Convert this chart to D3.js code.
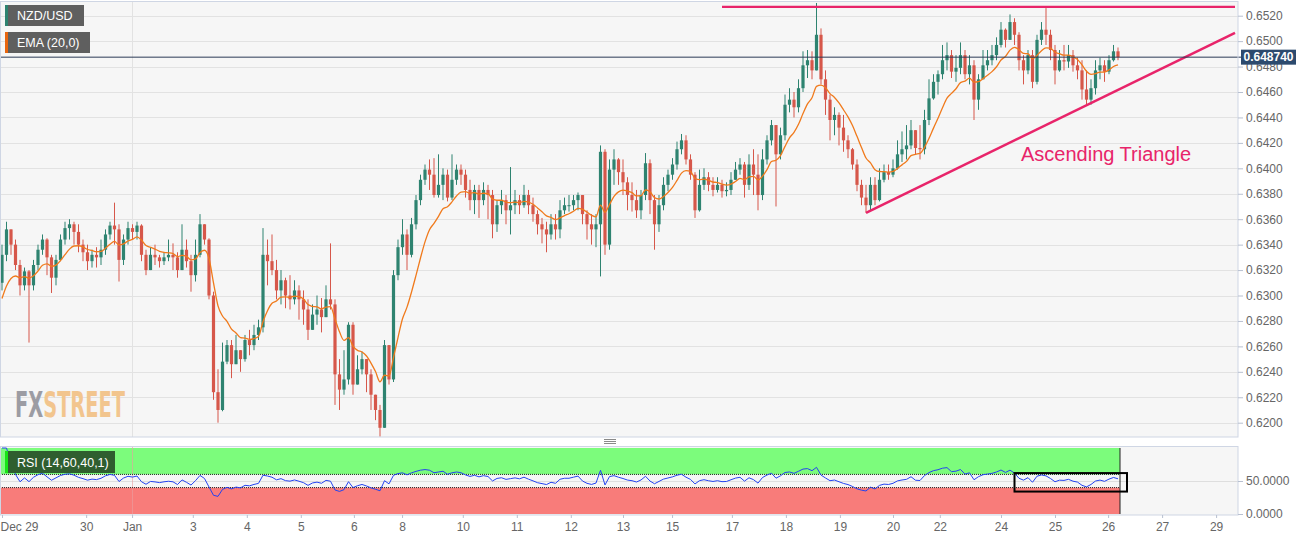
<!DOCTYPE html>
<html>
<head>
<meta charset="utf-8">
<script src="https://cdn.jsdelivr.net/npm/d3@7"></script>
<style>
  body { margin: 0; background: #fff; font-family: "Liberation Sans", Arial, sans-serif; }
</style>
</head>
<body>
<div id="chart"></div>
<script>
/* NZD/USD, 2h bars, prices in pips (6487 = 0.6487) */
var firstOpen = 6310;
var closePips = [
  6332,6352,6340,6324,6308,6319,6308,6324,6336,6344,6330,6314,6328,6344,6353,6356,6350,6340,6334,6327,6332,
  6330,6336,6348,6355,6352,6328,6344,6353,6350,6355,6332,6320,6332,6330,6327,6330,6332,6330,6320,6336,6327,6316,6332,6356,
  6344,6300,6224,6210,6248,6261,6246,6257,6250,6265,6261,6269,6275,6332,6327,6320,6304,6312,6300,
  6297,6304,6297,6289,6273,6285,6289,6283,6297,6293,6238,6226,6234,6277,6230,6242,6250,6238,6222,6210,6196,6261,6234,6316,
  6338,6348,6332,6356,6375,6391,6399,6395,6379,6387,6395,6377,6391,6399,6395,6383,6375,6383,6375,6383,6379,6356,6371,6375,6367,6371,6375,6371,6379,6371,6364,6356,6352,6348,6356,6352,6367,6371,
  6371,6375,6379,6364,6356,6352,6356,6413,6340,6399,6407,6397,6389,6379,6375,6367,6379,6404,6375,6356,6371,6387,6395,6403,6415,6422,6407,6395,6367,6387,6393,6387,6383,6387,6382,6383,6391,6399,6403,6387,6403,6395,6379,6407,6422,6434,6411,6426,6450,6454,6448,6463,6481,6485,6477,6505,6470,6454,6438,6442,6432,
  6422,6415,6403,6387,6377,6371,6387,6375,6391,6397,6395,6400,6411,6415,6418,6430,6416,6415,6438,6455,6468,6474,6485,6489,6476,6479,6489,6474,6481,6454,6470,6481,6485,6489,6497,6509,6501,6515,6505,6485,6477,6489,6468,6501,6509,6505,6493,6477,6485,6484,6489,6481,6477,6462,6454,6463,6477,6481,6476,6485,6492,6487.4
];
var highPips = [
  6340,6358,6352,6344,6328,6322,6320,6328,6340,6348,6345,6332,6332,6348,6358,6360,6358,6356,6344,6340,6336,
  6338,6344,6352,6358,6373,6356,6348,6358,6356,6358,6356,6336,6338,6340,6332,6334,6344,6341,6334,6356,6344,6332,6344,6364,
  6356,6345,6303,6242,6263,6265,6265,6269,6256,6269,6273,6277,6281,6353,6344,6348,6328,6320,6314,
  6316,6312,6308,6304,6297,6293,6300,6298,6308,6341,6297,6250,6257,6279,6279,6253,6256,6250,6242,6222,6214,6265,6261,6320,
  6344,6360,6352,6361,6379,6395,6403,6407,6408,6411,6400,6399,6411,6403,6403,6399,6391,6387,6387,6389,6387,6383,6375,6383,6379,6401,6383,6379,6387,6383,6377,6367,6361,6358,6364,6364,6375,6377,
  6379,6379,6381,6379,6367,6364,6364,6418,6415,6407,6415,6408,6407,6393,6389,6383,6383,6412,6407,6379,6379,6393,6399,6408,6421,6427,6426,6411,6397,6399,6400,6397,6393,6393,6391,6389,6397,6405,6408,6405,6411,6415,6411,6415,6426,6438,6434,6432,6458,6463,6460,6470,6492,6493,6492,6530,6510,6477,6458,6448,6444,
  6442,6426,6416,6407,6391,6387,6393,6393,6400,6403,6403,6407,6422,6429,6434,6438,6430,6434,6446,6470,6474,6477,6497,6499,6493,6489,6499,6493,6489,6485,6474,6493,6493,6497,6503,6515,6510,6521,6518,6507,6489,6493,6493,6505,6515,6526,6509,6497,6493,6497,6497,6493,6487,6485,6477,6470,6485,6487,6485,6489,6497,6495
];
var lowPips = [
  6304,6327,6332,6320,6300,6304,6263,6304,6320,6332,6316,6302,6308,6327,6340,6344,6340,6334,6327,6320,6322,
  6322,6324,6332,6344,6340,6311,6324,6340,6344,6344,6327,6316,6324,6324,6322,6324,6327,6320,6314,6330,6322,6303,6311,6330,
  6340,6297,6218,6200,6209,6246,6235,6248,6240,6248,6253,6257,6265,6271,6308,6316,6297,6293,6290,
  6289,6293,6281,6277,6265,6273,6277,6271,6283,6289,6214,6210,6222,6230,6222,6230,6238,6224,6210,6202,6189,6198,6230,6232,
  6312,6332,6320,6330,6352,6371,6387,6383,6377,6377,6375,6374,6375,6387,6387,6377,6367,6364,6361,6371,6360,6345,6350,6364,6356,6348,6364,6364,6369,6364,6358,6348,6341,6334,6344,6344,6345,6364,
  6366,6367,6367,6356,6344,6340,6338,6315,6332,6336,6387,6387,6379,6367,6366,6361,6360,6375,6364,6336,6350,6367,6382,6391,6399,6411,6403,6391,6361,6366,6383,6382,6378,6381,6377,6378,6379,6391,6395,6377,6383,6379,6367,6375,6403,6418,6370,6407,6422,6444,6440,6444,6460,6471,6470,6484,6466,6442,6422,6426,6418,
  6413,6408,6399,6382,6371,6365,6367,6371,6374,6389,6391,6393,6399,6405,6407,6415,6411,6407,6411,6434,6454,6458,6470,6477,6471,6468,6474,6470,6466,6438,6446,6470,6477,6481,6485,6495,6495,6501,6497,6477,6466,6474,6463,6466,6497,6497,6485,6466,6476,6477,6479,6476,6470,6454,6450,6450,6458,6470,6468,6474,6484,6485
];

// x axis: day labels and where they fall in bar units
var dayLabels = ["Dec 29","30","Jan","3","4","5","6","8","10","11","12","13","15","17","18","19","20","22","24","25","26","27","29"];
var dayIdx = [0,18.7,28.9,42.4,54.4,66.4,78.2,88.9,102.4,114.4,126.4,138,148.9,162.2,174.2,186.2,198,208.4,222,234,245.8,257.8,269.8];
var priceTicks = [0.6200,0.6220,0.6240,0.6260,0.6280,0.6300,0.6320,0.6340,0.6360,0.6380,0.6400,0.6420,0.6440,0.6460,0.6480,0.6500,0.6520];
var rsiTicks = [0, 50];

// drawn annotations (bar index, price)
var resistance = { from: 160, to: 274, price: 0.6527 };
var support = { from: 192, to: 274, p0: 0.6365, p1: 0.65065 };
var rsiBox = { from: 225, to: 250, hi: 62, lo: 34 };

var emaBars = 10;   // 20 hours on 2h bars
var rsiBars = 14;
var emaSeed = 0.6290;

/* build candles */
var candles = closePips.map(function (c, i) {
    var o = i === 0 ? firstOpen : closePips[i - 1];
    return {
        o: o / 10000, c: c / 10000,
        h: Math.max(highPips[i], o, c) / 10000,
        l: Math.min(lowPips[i], o, c) / 10000
    };
});
var last = candles[candles.length - 1].c;

// ema
var ema = [], k = 2 / (emaBars + 1), prev = emaSeed;
candles.forEach(function (d) { prev = d.c * k + prev * (1 - k); ema.push(prev); });

// rsi (wilder)
var rsi = [], ag = 0, al = 0;
candles.forEach(function (d, i) {
    var ch = d.c - d.o;
    var g = Math.max(ch, 0), l = Math.max(-ch, 0);
    var n = Math.min(i + 1, rsiBars);
    ag = (ag * (n - 1) + g) / n;
    al = (al * (n - 1) + l) / n;
    rsi.push(al === 0 ? 100 : 100 - 100 / (1 + ag / al));
});

/* layout */
var W = 1315, H = 541;
var plotRight = 1238;
var mainTop = 1, mainBottom = 437, rsiTop = 446, rsiBottom = 515;

var x = d3.scaleLinear().domain([0, 274]).range([2, 1235]);
var y = d3.scaleLinear().domain([0.62, 0.652]).range([422.7, 15.7]);
var yr = d3.scaleLinear().domain([0, 100]).range([514, 448]);

var svg = d3.select("#chart").append("svg").attr("width", W).attr("height", H)
    .style("font-family", "'Liberation Sans', Arial, sans-serif");

var defs = svg.append("defs");
defs.append("clipPath").attr("id", "clipMain").append("rect")
    .attr("x", 0).attr("y", mainTop).attr("width", plotRight).attr("height", mainBottom - mainTop);
defs.append("clipPath").attr("id", "clipRsi").append("rect")
    .attr("x", 0).attr("y", rsiTop).attr("width", plotRight).attr("height", rsiBottom - rsiTop);
// two-tone watermark fill: gray "FX", orange "STREET"
var wmGrad = defs.append("linearGradient").attr("id", "wmFill")
    .attr("gradientUnits", "userSpaceOnUse").attr("x1", 15).attr("x2", 125).attr("y1", 0).attr("y2", 0);
wmGrad.append("stop").attr("offset", 0.26).attr("stop-color", "#9c9ca3");
wmGrad.append("stop").attr("offset", 0.26).attr("stop-color", "#f2c58e");

/* main panel */
svg.append("rect").attr("x", 0).attr("y", mainTop).attr("width", plotRight).attr("height", mainBottom - mainTop)
    .attr("fill", "#f6f6f6");

svg.append("g").selectAll("line").data(priceTicks).enter().append("line")
    .attr("x1", 0).attr("x2", plotRight)
    .attr("y1", function (d) { return Math.round(y(d)) + 0.5; })
    .attr("y2", function (d) { return Math.round(y(d)) + 0.5; })
    .attr("stroke", "#e2e2e2");

svg.append("line").attr("x1", Math.round(x(dayIdx[2])) + 0.5).attr("x2", Math.round(x(dayIdx[2])) + 0.5)
    .attr("y1", mainTop).attr("y2", mainBottom).attr("stroke", "#e2e2e2");

// watermark
svg.append("text").attr("x", 15).attr("y", 417)
    .attr("textLength", 110).attr("lengthAdjust", "spacingAndGlyphs")
    .style("font-family", "'DejaVu Sans Condensed', 'DejaVu Sans', sans-serif")
    .style("font-weight", "bold").style("font-size", "36px")
    .attr("fill", "url(#wmFill)").text("FXSTREET");

// candles
var cg = svg.append("g").attr("clip-path", "url(#clipMain)");
var bw = 3.2;
var cnd = cg.selectAll("g").data(candles).enter().append("g");
cnd.append("line")
    .attr("x1", function (d, i) { return x(i); }).attr("x2", function (d, i) { return x(i); })
    .attr("y1", function (d) { return y(d.h); }).attr("y2", function (d) { return y(d.l); })
    .attr("stroke", function (d) { return d.c >= d.o ? "#2e8370" : "#d6574a"; })
    .attr("stroke-width", 1);
cnd.append("rect")
    .attr("x", function (d, i) { return x(i) - bw / 2; })
    .attr("width", bw)
    .attr("y", function (d) { return y(Math.max(d.o, d.c)); })
    .attr("height", function (d) { return Math.max(1, Math.abs(y(d.o) - y(d.c))); })
    .attr("fill", function (d) { return d.c >= d.o ? "#2e8370" : "#d6574a"; });

// ema line
cg.append("path").datum(ema)
    .attr("d", d3.line().x(function (d, i) { return x(i); }).y(function (d) { return y(d); }).curve(d3.curveMonotoneX))
    .attr("fill", "none").attr("stroke", "#f07a1c").attr("stroke-width", 1.3);

// last price line
svg.append("line").attr("x1", 0).attr("x2", plotRight + 3)
    .attr("y1", y(last)).attr("y2", y(last))
    .attr("stroke", "#2b3a56").attr("stroke-width", 1);

// pattern lines
cg.append("line")
    .attr("x1", x(resistance.from)).attr("x2", x(resistance.to))
    .attr("y1", y(resistance.price)).attr("y2", y(resistance.price))
    .attr("stroke", "#e8246a").attr("stroke-width", 2.2);
cg.append("line")
    .attr("x1", x(support.from)).attr("x2", x(support.to))
    .attr("y1", y(support.p0)).attr("y2", y(support.p1))
    .attr("stroke", "#e8246a").attr("stroke-width", 2.5);
svg.append("text").attr("x", 1021).attr("y", 161)
    .attr("fill", "#e8246a").style("font-size", "20px").text("Ascending Triangle");

// main border
svg.append("rect").attr("x", 0.5).attr("y", mainTop + 0.5).attr("width", plotRight - 0.5).attr("height", mainBottom - mainTop - 0.5)
    .attr("fill", "none").attr("stroke", "#cfd6e4");

// price axis (0.6480 sits behind the last price badge, as in the source)
var ya = svg.append("g").attr("transform", "translate(" + plotRight + ",0)")
    .call(d3.axisRight(y).tickValues(priceTicks).tickFormat(d3.format(".4f")).tickSize(5).tickPadding(3));
ya.select(".domain").remove();
ya.selectAll("line").attr("stroke", "#b8c0d0");
ya.selectAll("text").attr("fill", "#666").style("font-size", "12px").style("font-family", "'Liberation Sans', Arial, sans-serif");

// last price badge
svg.append("rect").attr("x", 1241).attr("y", y(last) - 7.5).attr("width", 55).attr("height", 15)
    .attr("fill", "#2c4a6e");
svg.append("text").attr("x", 1268.5).attr("y", y(last) + 4).attr("text-anchor", "middle")
    .attr("fill", "#fff").style("font-size", "12px").style("font-weight", "bold").text(d3.format(".6f")(last));

// legend
function tag(yy, w, stripe, bg, label) {
    svg.append("rect").attr("x", 5).attr("y", yy).attr("width", w).attr("height", 21).attr("fill", bg);
    svg.append("rect").attr("x", 5).attr("y", yy).attr("width", 3).attr("height", 21).attr("fill", stripe);
    svg.append("text").attr("x", 17).attr("y", yy + 15).attr("fill", "#fff").style("font-size", "12.5px").text(label);
}
tag(5, 79, "#2e8370", "#5f5f5f", "NZD/USD");
tag(32, 85, "#e8650e", "#5f5f5f", "EMA (20,0)");

/* separator handle */
[439, 441, 443].forEach(function (yy) {
    svg.append("line").attr("x1", 604).attr("x2", 616).attr("y1", yy + 0.5).attr("y2", yy + 0.5)
        .attr("stroke", "#8a8a8a");
});

/* rsi panel */
svg.append("rect").attr("x", 0).attr("y", rsiTop).attr("width", plotRight).attr("height", rsiBottom - rsiTop)
    .attr("fill", "#f6f6f6");
var rg = svg.append("g").attr("clip-path", "url(#clipRsi)");
var bandEnd = x(candles.length - 1) + 2;
rg.append("rect").attr("x", 0).attr("width", bandEnd).attr("y", yr(100)).attr("height", yr(60) - yr(100))
    .attr("fill", "#7cfc7c");
rg.append("rect").attr("x", 0).attr("width", bandEnd).attr("y", yr(40)).attr("height", yr(0) - yr(40))
    .attr("fill", "#f87c7a");
rg.append("line").attr("x1", 0).attr("x2", plotRight).attr("y1", Math.round(yr(50)) + 0.5).attr("y2", Math.round(yr(50)) + 0.5)
    .attr("stroke", "#dedede");
rg.append("line").attr("x1", Math.round(x(dayIdx[2])) + 0.5).attr("x2", Math.round(x(dayIdx[2])) + 0.5)
    .attr("y1", rsiTop).attr("y2", rsiBottom).attr("stroke", "#e9a0a0").attr("stroke-opacity", 0.6);
[60, 40].forEach(function (v) {
    rg.append("line").attr("x1", 0).attr("x2", bandEnd).attr("y1", yr(v)).attr("y2", yr(v))
        .attr("stroke", "#222").attr("stroke-dasharray", "1,1");
});
rg.append("line").attr("x1", bandEnd).attr("x2", bandEnd).attr("y1", yr(100)).attr("y2", yr(0)).attr("stroke", "#222");
rg.append("line").attr("x1", 0.5).attr("x2", 0.5).attr("y1", yr(100)).attr("y2", yr(0)).attr("stroke", "#222");

rg.append("path").datum(rsi)
    .attr("d", d3.line().x(function (d, i) { return x(i); }).y(function (d) { return yr(d); }))
    .attr("fill", "none").attr("stroke", "#2443f0").attr("stroke-width", 1);

svg.append("rect")
    .attr("x", x(rsiBox.from)).attr("width", x(rsiBox.to) - x(rsiBox.from))
    .attr("y", yr(rsiBox.hi)).attr("height", yr(rsiBox.lo) - yr(rsiBox.hi))
    .attr("fill", "none").attr("stroke", "#000").attr("stroke-width", 2);

svg.append("rect").attr("x", 0.5).attr("y", rsiTop + 0.5).attr("width", plotRight - 0.5).attr("height", rsiBottom - rsiTop - 0.5)
    .attr("fill", "none").attr("stroke", "#cfd6e4");

// rsi tag
svg.append("rect").attr("x", 5).attr("y", 451).attr("width", 110).attr("height", 22).attr("fill", "#2f5e2f");
svg.append("rect").attr("x", 5).attr("y", 451).attr("width", 3).attr("height", 22).attr("fill", "#18e418");
svg.append("text").attr("x", 17).attr("y", 466.5).attr("fill", "#fff").style("font-size", "12.5px").text("RSI (14,60,40,1)");

var ra = svg.append("g").attr("transform", "translate(" + plotRight + ",0)")
    .call(d3.axisRight(yr).tickValues(rsiTicks).tickFormat(d3.format(".4f")).tickSize(5).tickPadding(3));
ra.select(".domain").remove();
ra.selectAll("line").attr("stroke", "#b8c0d0");
ra.selectAll("text").attr("fill", "#666").style("font-size", "12px").style("font-family", "'Liberation Sans', Arial, sans-serif");

/* time axis */
var xa = svg.append("g").attr("transform", "translate(0," + rsiBottom + ")")
    .call(d3.axisBottom(x).tickValues(dayIdx).tickFormat(function (d, i) { return dayLabels[i]; }).tickSize(3).tickPadding(4));
xa.select(".domain").remove();
xa.selectAll("line").attr("stroke", "#b8c0d0");
xa.selectAll("text").attr("fill", "#666").style("font-size", "12px").style("font-family", "'Liberation Sans', Arial, sans-serif");
xa.selectAll("text").filter(function (d, i) { return i === 0; }).attr("text-anchor", "start").attr("x", -2);
</script>
</body>
</html>
